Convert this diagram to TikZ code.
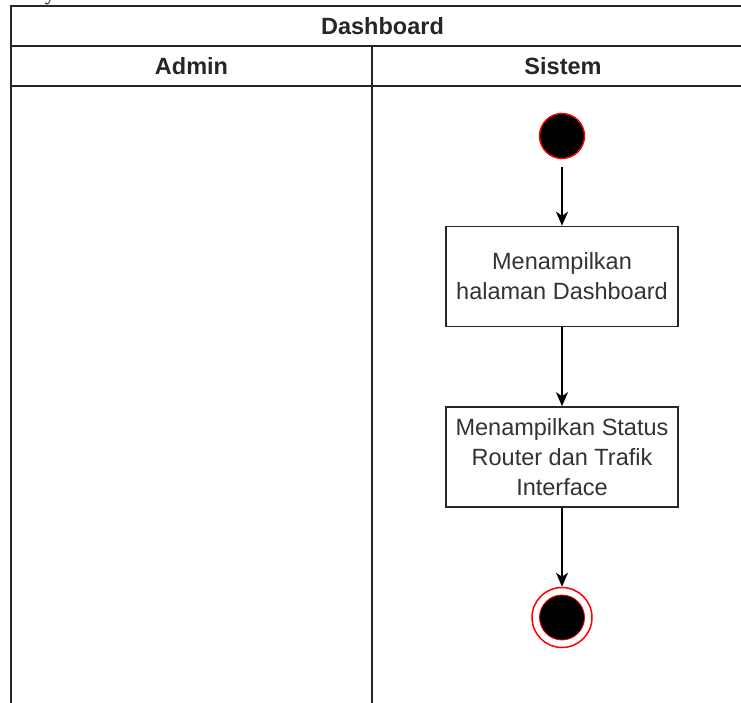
\documentclass[tikz,border=0pt]{standalone}
\usepackage{fontspec}
\setmainfont{Liberation Sans}
\newfontfamily\serifface{Liberation Serif}
\usetikzlibrary{arrows.meta}
\definecolor{ringred}{HTML}{FF0000}
\tikzset{
  lane/.style={draw=black!85, line width=2pt},
  hdr/.style={font=\fontsize{23.5}{28}\selectfont\bfseries, text=black!85},
  actbox/.style={draw=black!85, line width=1.6pt, fill=white, minimum width=232pt,
    minimum height=100pt, inner sep=0pt, align=center,
    font=\fontsize{23.5}{30}\selectfont, text=black!80},
  flow/.style={line width=1.6pt, -{Stealth[length=14pt,width=12pt,inset=4pt]}},
}
\begin{document}
\begin{tikzpicture}[x=1pt,y=-1pt]
\useasboundingbox (0,0) rectangle (741,703);
% stray glyph from the line above the figure
\node[anchor=base, inner sep=0pt, font=\serifface\fontsize{20}{24}\selectfont] (tail) at (50,0.5) {y};
% swimlane frame
\draw[lane] (11,710) -- (11,6) -- (760,6);
\draw[lane] (11,46) -- (760,46);
\draw[lane] (11,86) -- (760,86);
\draw[lane] (372,46) -- (372,710);
\node[hdr] (title) at (382.5,26) {Dashboard};
\node[hdr] (admin) at (191.5,66) {Admin};
\node[hdr] (sistem) at (563,66) {Sistem};
% activity flow
\node[circle, fill=black, draw=ringred, line width=1.4pt, minimum size=45pt, inner sep=0pt] (start) at (562,136) {};
\node[actbox] (a1) at (562,276.5) {Menampilkan\\halaman Dashboard};
\node[actbox] (a2) at (562,457) {Menampilkan Status\\Router dan Trafik\\Interface};
\node[circle, draw=ringred, line width=1.5pt, fill=white, minimum size=60pt, inner sep=0pt] (stop) at (562,617.5) {};
\node[circle, fill=black, draw=ringred, line width=0.8pt, minimum size=45pt, inner sep=0pt] (stopdot) at (stop.center) {};
\coordinate (s0) at ([yshift=-8pt]start.south);
\draw[flow] (s0) -- (a1.north);
\draw[flow] (a1) -- (a2);
\draw[flow] (a2) -- (stop);
\end{tikzpicture}
\end{document}
